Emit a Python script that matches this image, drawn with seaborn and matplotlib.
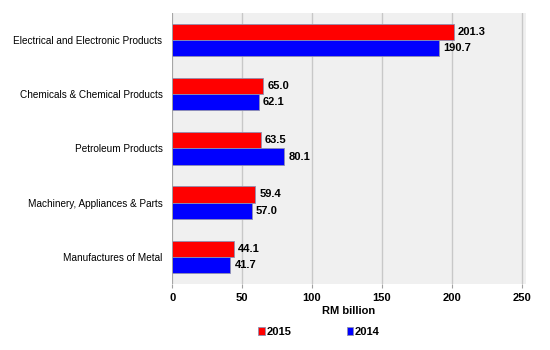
import pandas as pd
import numpy as np
import seaborn as sns
from matplotlib import pyplot as plt

categories = ['Electrical and Electronic Products', 'Chemicals & Chemical Products',
              'Petroleum Products', 'Machinery, Appliances & Parts', 'Manufactures of Metal']
years = ['2015', '2014']
vals_2015 = [201.3, 65.0, 63.5, 59.4, 44.1]
vals_2014 = [190.7, 62.1, 80.1, 57.0, 41.7]

df = pd.DataFrame({'product': categories * 2,
                   'year': ['2015'] * 5 + ['2014'] * 5,
                   'value': vals_2015 + vals_2014})

sns.set_style('whitegrid')
plt.rcParams['font.family'] = ['Liberation Sans', 'DejaVu Sans']
plt.rcParams['text.color'] = 'black'
plt.rcParams['xtick.color'] = 'black'
plt.rcParams['ytick.color'] = 'black'
plt.rcParams['axes.labelcolor'] = 'black'

fig, ax = plt.subplots(figsize=(5.5, 3.5), dpi=100)
fig.subplots_adjust(left=0.313, right=0.956, top=0.963, bottom=0.189)

sns.barplot(data=df, y='product', x='value', hue='year', hue_order=years, order=categories,
            palette=['#FF0000', '#0000FF'], saturation=1, width=0.6, edgecolor='#9090B0',
            linewidth=0.6, orient='h', ax=ax)

for c in ax.containers:
    ax.bar_label(c, fmt='%.1f', padding=3, fontsize=8, fontweight='bold')

ax.set_facecolor('#F0F0F0')
ax.set_xlim(0, 253)
ax.set_xticks([0, 50, 100, 150, 200, 250])
ax.grid(axis='x', color='#C8C8C8', linewidth=1)
ax.grid(axis='y', visible=False)
for s in ['top', 'right', 'left', 'bottom']:
    ax.spines[s].set_visible(False)
ax.axvline(0, color='#A0A0A0', linewidth=1.2)
ax.tick_params(axis='x', labelsize=8, length=3, color='#A0A0A0', bottom=True)
ax.tick_params(axis='y', labelsize=7.2, length=0, pad=7)
for t in ax.get_xticklabels():
    t.set_fontweight('bold')
ax.set_xlabel('RM billion', fontsize=8, fontweight='bold', labelpad=2)
ax.set_ylabel('')

ax.legend(loc='upper center', bbox_to_anchor=(0.415, -0.122), ncol=2, frameon=False,
          prop={'weight': 'bold', 'size': 8}, handlelength=0.6, handleheight=0.6,
          handletextpad=0.1, columnspacing=5)

plt.savefig('out.png', dpi=100)
